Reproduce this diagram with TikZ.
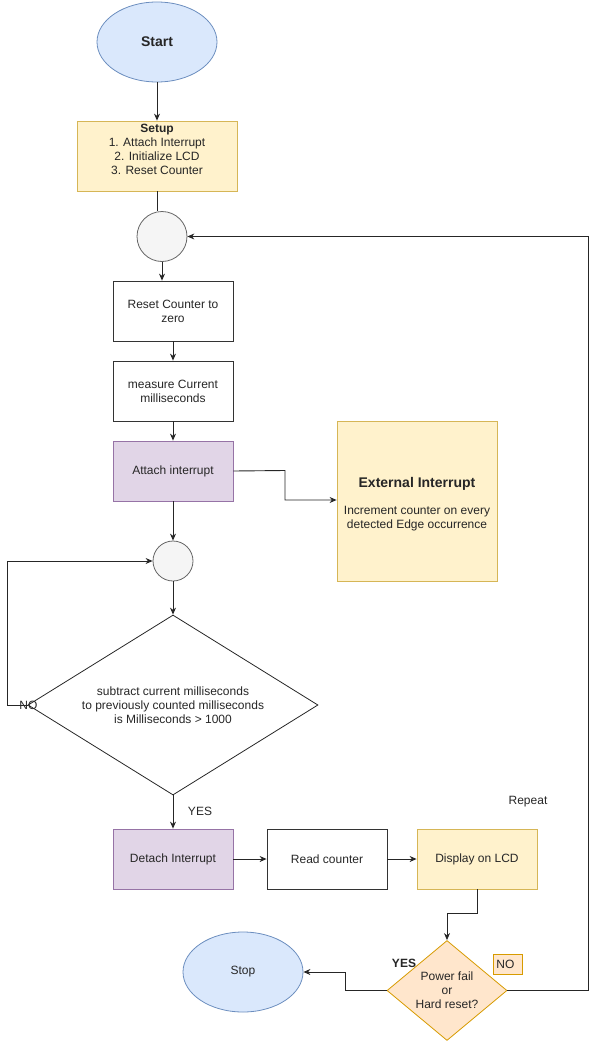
\documentclass[tikz,border=0pt]{standalone}
\usepackage{fontspec}
\setmainfont{Liberation Sans}
\usetikzlibrary{shapes.geometric,arrows.meta}

\definecolor{blueFill}{HTML}{DAE8FC}
\definecolor{blueLine}{HTML}{6C8EBF}
\definecolor{yellowFill}{HTML}{FFF2CC}
\definecolor{yellowLine}{HTML}{D6B656}
\definecolor{purpleFill}{HTML}{E1D5E7}
\definecolor{purpleLine}{HTML}{9673A6}
\definecolor{orangeFill}{HTML}{FFE6CC}
\definecolor{orangeLine}{HTML}{D79B00}
\definecolor{greyFill}{HTML}{F5F5F5}
\definecolor{greyLine}{HTML}{666666}

\begin{document}
\begin{tikzpicture}[x=1pt,y=-1pt,
  every node/.style={font=\fontsize{12}{14}\selectfont, inner sep=1pt, text=black!85},
  terminal/.style={ellipse, draw=blueLine, fill=blueFill, line width=0.8pt, minimum width=120pt, minimum height=80pt},
  box/.style={rectangle, draw=black!80, line width=0.8pt, minimum width=120pt, minimum height=60pt, align=center},
  yellowbox/.style={box, draw=yellowLine, fill=yellowFill},
  purplebox/.style={box, draw=purpleLine, fill=purpleFill},
  joint/.style={circle, draw=greyLine, fill=greyFill, line width=0.8pt, inner sep=0pt},
  choice/.style={diamond, draw=black!85, line width=0.8pt, inner sep=0pt, align=center},
  flow/.style={-{Stealth[length=7pt,width=6pt]}, line width=0.9pt, draw=black!85},
  link/.style={line width=0.9pt, draw=black!85}]
\useasboundingbox (0,0) rectangle (597,1041);

% start and setup
\node[terminal] (start) at (157,42) {\fontsize{14}{16}\selectfont\bfseries Start};
\node[yellowbox, minimum width=160pt, minimum height=70pt,
  label={[anchor=north, align=center, inner sep=0pt, yshift=-3pt]north:{\textbf{Setup}\\1. Attach Interrupt\\2. Initialize LCD\\3. Reset Counter}}]
  (setup) at (157,156) {};
\node[joint, minimum size=50pt] (loopTop) at (162,236.5) {};

% main sequence
\node[box] (resetCnt) at (173,311) {Reset Counter to\\zero};
\node[box] (measure) at (173,391) {measure Current\\milliseconds};
\node[purplebox] (attach) at (173,471) {Attach interrupt};
\node[yellowbox, minimum width=160pt, minimum height=160pt] (isr) at (417,501) {};
\node[align=center, yshift=-3pt] (isrText) at (isr.center)
  {{\fontsize{14}{16}\selectfont\bfseries External Interrupt}\\[13pt]Increment counter on every\\detected Edge occurrence};
\node[joint, minimum size=40pt] (loopIn) at (173,561) {};
\node[choice, aspect=1.61, minimum width=290pt, minimum height=180pt] (check) at (173,705)
  {subtract current milliseconds\\to previously counted milliseconds\\is Milliseconds \textgreater{} 1000};

% output row
\node[purplebox] (detach) at (173,859) {Detach Interrupt};
\node[box] (readCnt) at (327,859) {Read counter};
\node[yellowbox] (display) at (477,859) {Display on LCD};
\node[choice, aspect=1.2, draw=orangeLine, fill=orangeFill, minimum width=120pt, minimum height=100pt] (power) at (447,990.5)
  {Power fail\\or\\Hard reset?};
\node[terminal] (stop) at (243,972) {Stop};

% labels
\node (noCheck) at (28.5,705) {NO};
\node (yesCheck) at (200,811) {YES};
\node[font=\fontsize{12}{14}\selectfont\bfseries] (yesPower) at (404,963) {YES};
\node[anchor=west, draw=orangeLine, fill=orangeFill, line width=0.8pt, inner xsep=3pt,
  text width=23pt, minimum height=20pt, align=left] (noPower) at (493,964) {NO};
\node (repeat) at (528,802) {Repeat};

% connectors
\draw[flow] (start) -- (setup);
\draw[link] (setup.south) -- (setup.south |- loopTop.100);
\draw[flow] (loopTop.south) -- (loopTop.south |- resetCnt.north);
\draw[flow] (resetCnt) -- (measure);
\draw[flow] (measure) -- (attach);
\draw[flow] (attach.east) -- (285,470.5) -- (285,500) -- (isr.west |- 0,500);
\draw[flow] (attach) -- (loopIn);
\draw[flow] (loopIn) -- (check.north);
\draw[flow] (check.west) -- (7,705) -- (7,561) -- (loopIn.west);
\draw[flow] (check.south) -- (detach);
\draw[flow] (detach) -- (readCnt);
\draw[flow] (readCnt) -- (display);
\draw[flow] (display.south) -- (477,913) -- (447,913) -- (power.north);
\draw[flow] (power.west) -- (345,990.5) -- (345,972) -- (stop.east);
\draw[flow] (power.east) -- (588,990.5) -- (588,236.5) -- (loopTop.east);
\end{tikzpicture}
\end{document}
